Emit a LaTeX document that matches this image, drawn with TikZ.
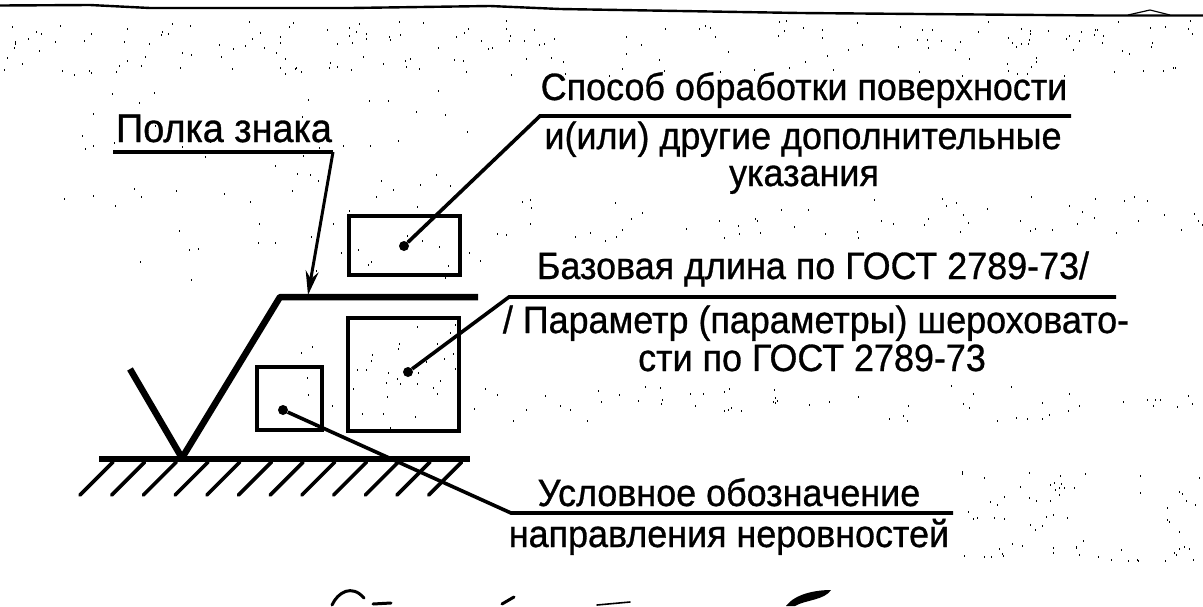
\documentclass[tikz,border=0pt]{standalone}
\usepackage{fontspec}
\setmainfont[FakeBold=0.8,FakeStretch=0.945]{Liberation Sans}
\usetikzlibrary{arrows.meta}
\tikzset{
  lbl/.style={inner sep=0pt,anchor=base,font=\fontsize{38}{40}\selectfont,text=black},
  bigl/.style={inner sep=0pt,anchor=base,font=\fontsize{40}{42}\selectfont,text=black},
  frame/.style={draw=black,line width=3.6pt,fill=none,inner sep=0pt,outer sep=0pt},
  leader/.style={line width=3pt,draw=black},
  shelfline/.style={line width=3.6pt,draw=black},
  dotmark/.style={circle,fill=black,inner sep=0pt,minimum size=10pt},
  hatch/.style={line width=3.6pt,draw=black,line cap=round},
  scanline/.style={line width=2.4pt,draw=black,line join=round},
  smudge/.style={line width=3pt,draw=black,line cap=round}
}
\newcommand{\specks}[5]{% count, x0, x1, y0, y1
  \foreach \k in {1,...,#1}{
    \pgfmathsetmacro{\px}{random(#2,#3)}
    \pgfmathsetmacro{\py}{random(#4,#5)}
    \fill[black] (\px,\py) rectangle ++(1.3,2);
  }}
\begin{document}
\begin{tikzpicture}[x=1pt,y=-1pt]
\useasboundingbox (0,0) rectangle (1203,606);
\fill[white] (0,0) rectangle (1203,606);
\pgfmathsetseed{4217}
% scan noise
\specks{190}{0}{1203}{20}{75}
\specks{60}{480}{1203}{195}{240}
\specks{60}{470}{1203}{385}{420}
\specks{70}{960}{1203}{470}{560}
\specks{70}{60}{480}{90}{290}
\specks{40}{300}{460}{320}{430}
% scan edge on top
\draw[scanline] (0,5.5)--(90,5)--(150,8)--(350,8)--(490,6)--(560,9)--(800,13)--(1100,15.5)--(1203,15.5);
\draw[line width=1.2pt] (1128,15)--(1150,10)--(1170,15);
% smudges at the bottom edge
\draw[smudge] (332,605) .. controls (338,592) and (352,584) .. (364,598);
\draw[smudge] (373,604)--(391,603);
\draw[smudge] (502,604)--(514,597);
\draw[smudge,line width=1.6pt] (597,605)--(630,602);
\fill[black] (786,606) .. controls (795,594) and (815,590) .. (831,590) .. controls (825,600) and (805,600) .. (795,606) -- cycle;
% labels
\node[bigl] (t1) at (224,142) {Полка знака};
\node[lbl] (t2) at (804,100) {Способ обработки поверхности};
\node[lbl] (t3) at (803,149) {и(или) другие дополнительные};
\node[lbl] (t4) at (804,186) {указания};
\node[lbl] (t5) at (813,279) {Базовая длина по ГОСТ 2789-73/};
\node[lbl] (t6) at (816,333) {/ Параметр (параметры) шероховато-};
\node[lbl] (t7) at (812,371) {сти по ГОСТ 2789-73};
\node[lbl] (t8) at (729,506) {Условное обозначение};
\node[lbl] (t9) at (729,547) {направления неровностей};
% boxes
\node[frame,minimum width=111pt,minimum height=59pt] (b1) at (404.5,245.5) {};
\node[frame,minimum width=111pt,minimum height=113pt] (b2) at (403.5,374.5) {};
\node[frame,minimum width=65pt,minimum height=63pt] (b3) at (289.5,398.5) {};
% dots
\node[dotmark] (d1) at (404,246) {};
\node[dotmark] (d2) at (408,372) {};
\node[dotmark] (d3) at (283,410) {};
% sign
\coordinate (root) at (182,458);
\coordinate (tick) at (130,369);
\coordinate (knee) at (280,297);
\coordinate (shelfend) at (478,297);
\coordinate (basel) at (99,459);
\coordinate (baser) at (470,459);
\draw[line width=6.5pt] (tick)--(root);
\draw[line width=6.5pt,line join=round] (root)--(knee)--(shelfend);
\draw[line width=6pt] (basel)--(baser);
\foreach \i in {0,...,11}{
  \draw[hatch] ({113+\i*31.7},462) -- ({80+\i*31.7},495);
}
% Polka leader
\coordinate (pa) at (113,152); \coordinate (pb) at (333,152); \coordinate (pc) at (308,295);
\draw[shelfline,line join=miter] (pa)--(pb);
\draw[leader,-{Stealth[length=24pt,width=13pt]}] (pb)--(pc);
% leaders
\coordinate (l1a) at (1071,116); \coordinate (l1b) at (540,116);
\draw[shelfline] (l1a)--(l1b)--(d1);
\coordinate (l2a) at (1116,297); \coordinate (l2b) at (509,297);
\draw[shelfline] (l2a)--(l2b)--(d2);
\coordinate (l3a) at (953,513); \coordinate (l3b) at (511,513);
\draw[shelfline] (l3a)--(l3b)--(d3);
\end{tikzpicture}
\end{document}
